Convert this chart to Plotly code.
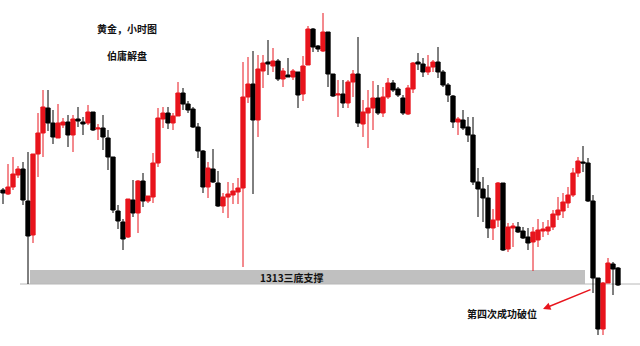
import plotly.graph_objects as go

# Gold hourly candles (approximate prices)
open_ = [1322.4, 1322.0, 1322.7, 1323.9, 1324.5, 1321.3, 1317.9, 1326.0, 1328.1, 1330.6,
         1329.1, 1327.6, 1328.9, 1329.2, 1327.9, 1329.5, 1329.2, 1329.1, 1330.2, 1328.5,
         1328.6, 1327.6, 1325.7, 1320.3, 1319.2, 1317.7, 1321.4, 1320.1, 1323.3, 1321.3,
         1321.7, 1325.1, 1329.5, 1330.1, 1329.1, 1329.8, 1332.1, 1331.0, 1330.5, 1328.7,
         1326.3, 1322.7, 1324.5, 1323.1, 1320.8, 1321.7, 1321.9, 1322.2, 1322.6, 1331.7,
         1333.0, 1329.4, 1334.3, 1335.2, 1334.8, 1335.3, 1333.5, 1333.9, 1333.7, 1334.2,
         1332.0, 1334.9, 1338.5, 1336.8, 1336.3, 1338.2, 1334.0, 1331.9, 1332.0, 1331.1,
         1333.2, 1334.0, 1329.0, 1330.1, 1330.6, 1331.6, 1330.1, 1331.7, 1333.1, 1332.5,
         1331.6, 1330.0, 1332.5, 1335.2, 1335.0, 1334.2, 1334.7, 1335.2, 1334.2, 1332.9,
         1331.8, 1329.2, 1329.4, 1328.7, 1327.9, 1323.2, 1322.5, 1321.6, 1318.6, 1319.4,
         1323.1, 1316.5, 1318.6, 1318.7, 1318.3, 1317.7, 1317.2, 1317.4, 1318.3, 1318.3,
         1318.7, 1319.9, 1320.3, 1321.1, 1321.9, 1324.1, 1325.2, 1325.1, 1321.3, 1313.6,
         1308.5, 1313.1, 1315.0, 1314.6]
high = [1322.6, 1325.0, 1325.7, 1324.8, 1325.2, 1326.2, 1326.0, 1330.1, 1332.4, 1332.4,
        1330.4, 1331.0, 1329.6, 1329.9, 1329.9, 1330.7, 1329.7, 1330.9, 1330.2, 1329.0,
        1329.9, 1328.4, 1325.7, 1320.9, 1319.5, 1321.5, 1323.4, 1323.4, 1324.1, 1321.8,
        1326.1, 1330.6, 1330.7, 1330.7, 1330.1, 1333.2, 1332.6, 1331.3, 1330.7, 1329.1,
        1326.4, 1325.2, 1326.5, 1324.3, 1322.1, 1323.2, 1323.1, 1323.6, 1335.2, 1335.7,
        1336.3, 1335.9, 1335.9, 1337.4, 1336.6, 1335.5, 1334.6, 1335.6, 1334.5, 1334.2,
        1335.8, 1338.8, 1338.6, 1336.9, 1340.1, 1338.2, 1334.0, 1333.4, 1333.4, 1333.4,
        1334.4, 1337.7, 1331.4, 1332.4, 1333.3, 1332.9, 1332.7, 1333.6, 1333.4, 1332.7,
        1331.9, 1332.9, 1335.2, 1336.1, 1335.6, 1335.9, 1335.4, 1336.7, 1334.4, 1333.1,
        1331.9, 1329.7, 1330.4, 1329.7, 1329.7, 1324.6, 1323.7, 1322.9, 1320.5, 1323.2,
        1323.1, 1319.1, 1319.1, 1319.2, 1318.7, 1318.6, 1318.7, 1319.5, 1319.2, 1319.4,
        1320.4, 1321.7, 1322.1, 1322.7, 1324.6, 1325.7, 1326.8, 1325.6, 1321.9, 1313.6,
        1313.2, 1315.6, 1315.2, 1314.7]
low = [1321.0, 1321.9, 1322.4, 1323.6, 1320.9, 1313.0, 1317.1, 1323.7, 1325.7, 1328.3,
       1327.0, 1327.6, 1328.6, 1326.7, 1326.2, 1328.7, 1327.9, 1328.9, 1328.3, 1327.4,
       1326.4, 1324.4, 1320.1, 1318.5, 1316.4, 1317.6, 1319.7, 1318.1, 1320.7, 1321.1,
       1321.1, 1324.7, 1328.6, 1328.5, 1328.4, 1329.8, 1330.4, 1330.1, 1328.6, 1325.6,
       1322.1, 1321.6, 1323.1, 1320.7, 1320.1, 1319.6, 1321.0, 1321.0, 1314.7, 1331.1,
       1322.0, 1327.7, 1332.6, 1333.9, 1334.2, 1333.3, 1332.7, 1333.7, 1333.4, 1330.6,
       1331.3, 1334.9, 1336.2, 1336.2, 1336.2, 1332.7, 1331.7, 1329.7, 1330.6, 1330.6,
       1331.7, 1328.7, 1327.7, 1326.6, 1328.4, 1329.9, 1329.7, 1331.5, 1332.2, 1331.7,
       1329.9, 1329.9, 1332.1, 1334.4, 1333.7, 1333.9, 1334.2, 1333.6, 1332.7, 1331.2,
       1328.6, 1327.9, 1328.4, 1327.2, 1322.9, 1319.7, 1319.2, 1317.6, 1317.4, 1318.7,
       1316.3, 1316.2, 1316.7, 1318.1, 1317.5, 1316.4, 1314.3, 1316.7, 1317.7, 1317.9,
       1318.4, 1319.4, 1319.6, 1320.6, 1321.7, 1323.7, 1324.2, 1321.2, 1312.1, 1307.9,
       1307.9, 1313.1, 1311.9, 1312.8]
close = [1322.1, 1322.7, 1324.0, 1324.5, 1321.4, 1317.8, 1326.0, 1328.1, 1330.7, 1329.1,
         1327.7, 1329.1, 1329.2, 1327.9, 1329.5, 1329.3, 1329.0, 1330.2, 1328.4, 1328.6,
         1327.7, 1325.7, 1320.4, 1319.3, 1317.5, 1321.5, 1320.1, 1323.3, 1321.3, 1321.8,
         1325.1, 1329.6, 1330.1, 1329.1, 1329.8, 1332.1, 1331.0, 1330.4, 1328.7, 1326.3,
         1322.7, 1324.6, 1323.2, 1320.8, 1321.7, 1322.0, 1322.3, 1322.6, 1331.7, 1333.0,
         1329.4, 1334.5, 1335.1, 1335.0, 1335.3, 1333.5, 1334.3, 1333.7, 1334.3, 1331.9,
         1334.8, 1338.5, 1336.7, 1336.5, 1338.2, 1334.0, 1331.8, 1332.0, 1331.1, 1333.2,
         1334.0, 1329.1, 1330.2, 1330.6, 1331.6, 1330.1, 1331.7, 1333.1, 1332.4, 1331.9,
         1330.1, 1332.6, 1335.1, 1335.0, 1334.2, 1334.7, 1335.2, 1334.2, 1332.9, 1331.9,
         1329.2, 1329.5, 1328.6, 1327.9, 1323.2, 1322.5, 1321.6, 1318.6, 1319.4, 1323.1,
         1316.4, 1318.7, 1318.8, 1318.2, 1317.6, 1317.1, 1318.2, 1318.4, 1318.5, 1318.7,
         1320.0, 1320.4, 1321.2, 1321.9, 1324.1, 1325.3, 1325.1, 1321.3, 1313.6, 1308.5,
         1313.1, 1315.1, 1314.5, 1312.9]
bars = list(range(len(close)))

support_level = 1313.0
support_label = "1313三底支撑"
title_lines = ["黄金，小时图", "伯庸解盘"]
break_label = "第四次成功破位"

RED = "#e8141c"
BLACK = "#000000"

fig = go.Figure()
fig.add_trace(go.Candlestick(
    x=bars, open=open_, high=high, low=low, close=close,
    increasing=dict(line=dict(color=RED, width=1), fillcolor=RED),
    decreasing=dict(line=dict(color=BLACK, width=1), fillcolor=BLACK),
    whiskerwidth=0, hoverinfo="skip", showlegend=False,
))

# support band and line
fig.add_shape(type="rect", xref="x", yref="y", x0=5.4, x1=116.4,
              y0=support_level, y1=support_level + 1.4,
              fillcolor="#c0c0c0", line=dict(width=0), layer="below")
fig.add_shape(type="line", xref="x", yref="y", x0=3.4, x1=127.4,
              y0=support_level, y1=support_level,
              line=dict(color="#b8b8b8", width=1), layer="below")

font_cjk = "Noto Sans CJK SC"
def label(x, y, text):
    fig.add_annotation(x=x, y=y, xref="paper", yref="paper", text="<b>%s</b>" % text,
                       xanchor="center", yanchor="middle", showarrow=False,
                       font=dict(family=font_cjk, size=10, color="#111111"))

label(0.198, 0.919, title_lines[0])
label(0.198, 0.841, title_lines[1])
label(0.456, 0.199, support_label)
label(0.784, 0.095, break_label)

fig.add_annotation(x=108, y=1310.5, ax=117.8, ay=1312.5, xref="x", yref="y",
                   axref="x", ayref="y", text="", showarrow=True,
                   arrowhead=2, arrowsize=1, arrowwidth=1.5, arrowcolor=RED)

fig.update_layout(
    width=640, height=346, margin=dict(l=0, r=0, t=0, b=0),
    paper_bgcolor="white", plot_bgcolor="white",
    boxgap=0.15, boxgroupgap=0, hovermode=False, showlegend=False,
    xaxis=dict(range=[-0.6, 127.4], visible=False, rangeslider=dict(visible=False),
               showgrid=False, zeroline=False, fixedrange=True),
    yaxis=dict(range=[1306.8, 1341.4], visible=False, showgrid=False, zeroline=False,
               fixedrange=True),
)
fig.write_html("out.html", config={"displayModeBar": False})
